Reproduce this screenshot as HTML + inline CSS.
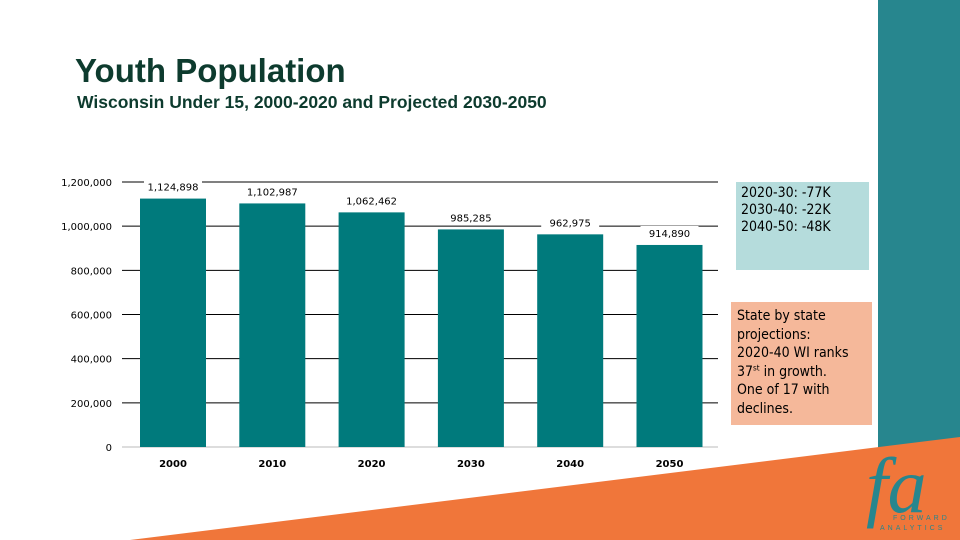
<!DOCTYPE html>
<html><head><meta charset="utf-8"><style>
body{margin:0;width:960px;height:540px;overflow:hidden;background:#fff;font-family:"DejaVu Sans","Liberation Sans",sans-serif;position:relative}
.t{position:absolute;color:#0d3b2e;font-family:"Liberation Sans",sans-serif}
.box{position:absolute;font-family:"DejaVu Sans Condensed","DejaVu Sans",sans-serif;font-size:14px;color:#000}
</style></head><body>
<svg width="960" height="540" style="position:absolute;left:0;top:0">
<rect x="878" y="0" width="82" height="448" fill="#27868e"/>
<polygon points="130,540 960,437 960,540" fill="#f0763a"/>
<text x="866" y="512" font-family="Liberation Serif,serif" font-style="italic" font-size="78" fill="#27868e">fa</text>
<text x="893" y="520" font-family="Liberation Sans,sans-serif" font-size="7" letter-spacing="3" fill="#27868e">FORWARD</text>
<text x="880" y="530" font-family="Liberation Sans,sans-serif" font-size="7" letter-spacing="3" fill="#27868e">ANALYTICS</text>
</svg>
<div class="t" style="left:75px;top:52px;font-size:33px;font-weight:bold">Youth Population</div>
<div class="t" style="left:77px;top:92px;font-size:17.5px;font-weight:bold">Wisconsin Under 15, 2000-2020 and Projected 2030-2050</div>
<svg id="chart" width="960" height="540" style="position:absolute;left:0;top:0"></svg>
<div class="box" style="left:736px;top:182px;width:128px;height:85px;background:#b5dcdc;padding:3px 0 0 5px;line-height:17px">2020-30: -77K<br>2030-40: -22K<br>2040-50: -48K</div>
<div class="box" style="left:731px;top:302px;width:135px;height:118px;background:#f5b89a;padding:5px 0 0 6px;line-height:18.5px">State by state<br>projections:<br>2020-40 WI ranks<br>37<sup style="font-size:8px;line-height:0">st</sup> in growth.<br>One of 17 with<br>declines.</div>
<script>
const categories=["2000","2010","2020","2030","2040","2050"];
const values=[1124898,1102987,1062462,985285,962975,914890];
const ticks=[0,200000,400000,600000,800000,1000000,1200000];
const svg=document.getElementById('chart'),NS="http://www.w3.org/2000/svg";
const y=v=>447-v/1200000*265;
const x=i=>173+i*99.3;
const fmt=v=>v.toLocaleString('en-US');
function mk(t,a){const e=document.createElementNS(NS,t);for(const k in a)e.setAttribute(k,a[k]);svg.appendChild(e);return e;}
ticks.forEach(t=>{
 const l=mk('line',{x1:122,x2:718,y1:y(t),y2:y(t),stroke:t===0?'#bbb':'#000','stroke-width':1});
 
 
 const tx=mk('text',{x:112,y:y(t)+4,'text-anchor':'end','font-size':10,fill:'#000'});
 tx.textContent=fmt(t);
 
 
});
categories.forEach((c,i)=>{
 const r=mk('rect',{x:x(i)-33,y:y(values[i]),width:66,height:447-y(values[i]),fill:'#007a7c'});
 
 
 const bg=mk('rect',{x:x(i)-29,y:y(values[i])-19,width:58,height:14,fill:'#fff'});
 
 
 const v=mk('text',{x:x(i),y:y(values[i])-8,'text-anchor':'middle','font-size':10,fill:'#000'});
 v.textContent=fmt(values[i]);
 
 
 const xl=mk('text',{x:x(i),y:467,'text-anchor':'middle','font-size':10,'font-weight':'bold',fill:'#000'});
 xl.textContent=c;
 
 
});
</script>
</body></html>
